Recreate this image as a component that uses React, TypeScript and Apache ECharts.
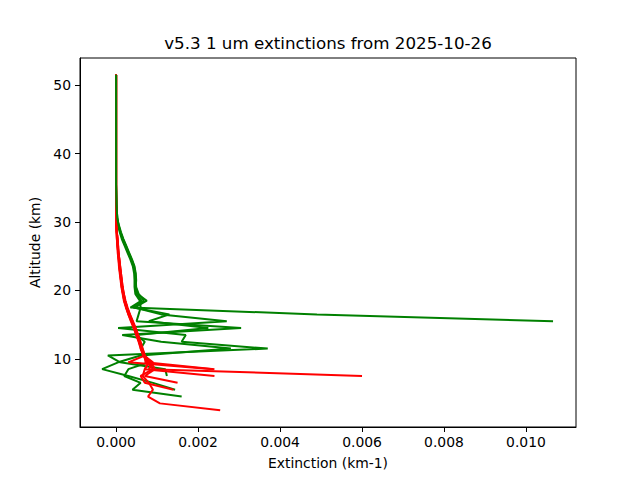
import { useEffect, useRef } from "react";
import * as echarts from "echarts";

// altitude levels (km), top to bottom; each profile runs down as far as it has values
const altitudes = [
  51.5, 45.5, 40.5, 35.5, 32.5, 30.5, 29.5, 28.5, 27.5, 26.5, 25.5, 24.5, 23.5, 22.5, 21.5, 20.5,
  19.5, 18.5, 17.5, 16.5, 15.5, 14.5, 13.5, 12.5, 11.5, 10.5, 9.5, 8.5, 7.5, 6.5, 5.5, 4.5, 3.5, 2.5
];

// green profiles (km-1)
const greenA = [
  0, 0, 0, 0, 0.00001, 0.00003, 0.00006, 0.0001, 0.00016, 0.00023, 0.0003, 0.00037, 0.00043, 0.00046,
  0.00047, 0.00047, 0.0005, 0.00062, 0.00035, 0.0049, 0.01066
];
const greenB = [
  0, 0, 0, 0, 0.00001, 0.00003, 0.00007, 0.00012, 0.00018, 0.00025, 0.00032, 0.00039, 0.00045, 0.00048,
  0.00049, 0.00048, 0.00052, 0.00075, 0.00045, 0.0011, 0.0027, 0.00005, 0.0017, 0.0016, 0.0037, -0.0002,
  0.0001, 0.0012, 0.00124
];
const greenC = [
  0, 0, 0, 0, 0.00001, 0.00002, 0.00005, 0.00009, 0.00014, 0.00021, 0.00028, 0.00035, 0.00041, 0.00044,
  0.00045, 0.00045, 0.00047, 0.00058, 0.0006, 0.00055, 0.0005, 0.00305, 0.00015, 0.0011, 0.0028, 0.0006,
  0.00005, -0.00034, 0.0003, 0.0009, 0.00144
];
const greenD = [
  0, 0, 0, 0, 0.00001, 0.00003, 0.00006, 0.00011, 0.00017, 0.00024, 0.00031, 0.00038, 0.00044, 0.00047,
  0.00048, 0.00049, 0.00055, 0.00068, 0.00042, 0.0013, 0.0008, 0.00225, 0.0005, 0.0007, 0.0006, 0.0007,
  0.0008, 0.0003, 0.0002, 0.0006, 0.0004, 0.0016
];

// red profiles (km-1)
const redA = [
  0, 0, 0, 0, 0, 0.000005, 0.00001, 0.00002, 0.00003, 0.00004, 0.00005, 0.00007, 0.00008, 0.0001,
  0.00012, 0.00014, 0.00017, 0.0002, 0.00025, 0.00031, 0.00038, 0.00045, 0.0005, 0.00056, 0.00062,
  0.00068, 0.0009, 0.0008, 0.006
];
const redB = [
  0, 0, 0, 0, 0, 0.000005, 0.00001, 0.00002, 0.00003, 0.00004, 0.00006, 0.00008, 0.0001, 0.00012,
  0.00014, 0.00016, 0.00019, 0.00023, 0.00028, 0.00034, 0.00041, 0.00048, 0.00054, 0.0006, 0.00065,
  0.0007, 0.0003, 0.00237
];
const redC = [
  0, 0, 0, 0, 0, 0, 0.00001, 0.00001, 0.00002, 0.00003, 0.00004, 0.00006, 0.00007, 0.00009, 0.00011,
  0.00013, 0.00016, 0.00019, 0.00024, 0.0003, 0.00036, 0.00043, 0.00049, 0.00055, 0.0006, 0.00066,
  0.0008, 0.0007, 0.0024
];
const redD = [
  0, 0, 0, 0, 0, 0.000005, 0.00001, 0.00002, 0.00003, 0.00005, 0.00006, 0.00008, 0.00009, 0.00011,
  0.00013, 0.00015, 0.00018, 0.00022, 0.00027, 0.00033, 0.0004, 0.00047, 0.00053, 0.00058, 0.00064,
  0.0007, 0.00085, 0.00095, 0.0007, 0.0015
];
const redE = [
  0, 0, 0, 0, 0, 0.000005, 0.00001, 0.00002, 0.00003, 0.00004, 0.00005, 0.00007, 0.00009, 0.00011,
  0.00013, 0.00015, 0.00018, 0.00021, 0.00026, 0.00032, 0.00039, 0.00046, 0.00052, 0.00057, 0.00063,
  0.00069, 0.0008, 0.0007, 0.00065, 0.0008, 0.0009, 0.00078, 0.00107, 0.00254
];
const redF = [
  0, 0, 0, 0, 0, 0, 0.00001, 0.00001, 0.00002, 0.00004, 0.00005, 0.00006, 0.00008, 0.0001, 0.00012,
  0.00014, 0.00017, 0.0002, 0.00025, 0.0003, 0.00037, 0.00044, 0.0005, 0.00056, 0.00061, 0.00067,
  0.00075, 0.0009, 0.0006, 0.0007, 0.0014
];
const redG = [
  0, 0, 0, 0, 0, 0.000005, 0.00001, 0.00002, 0.00004, 0.00005, 0.00006, 0.00008, 0.0001, 0.00012,
  0.00014, 0.00016, 0.00019, 0.00022, 0.00027, 0.00033, 0.0004, 0.00046, 0.00052, 0.00058, 0.00063,
  0.00069, 0.00072, 0.0024
];

const xTicks = [0, 0.002, 0.004, 0.006, 0.008, 0.01];
const yTicks = [10, 20, 30, 40, 50];

const font = "DejaVu Sans";

function profileLine(values: number[], color: string) {
  return {
    type: "line",
    data: values.map((v, i) => [v, altitudes[i]]),
    showSymbol: false,
    symbol: "none",
    lineStyle: { width: 2, color },
    z: 2
  };
}

export default function App() {
  const ref = useRef<HTMLDivElement | null>(null);

  useEffect(() => {
    if (!ref.current) return;
    const chart = echarts.init(ref.current, null, { renderer: "svg" });

    chart.setOption({
      animation: false,
      textStyle: { fontFamily: font },
      grid: {
        left: 80,
        right: 64,
        top: 58,
        bottom: 53,
        show: true,
        borderColor: "#000",
        borderWidth: 1
      },
      graphic: [
        {
          type: "text",
          x: 328,
          y: 43,
          style: {
            text: "v5.3 1 um extinctions from 2025-10-26",
            font: `16.7px "${font}"`,
            fill: "#000",
            textAlign: "center",
            textVerticalAlign: "middle"
          }
        }
      ],
      xAxis: {
        type: "value",
        min: -0.00088,
        max: 0.01122,
        name: "Extinction (km-1)",
        nameLocation: "middle",
        nameGap: 29,
        nameTextStyle: { fontSize: 13.9, color: "#000", fontFamily: font },
        axisLine: { show: true, onZero: false, lineStyle: { color: "#000", width: 1 } },
        axisTick: { show: true, length: 5, lineStyle: { color: "#000" }, customValues: xTicks },
        axisLabel: {
          color: "#000",
          fontSize: 13.9,
          margin: 8,
          customValues: xTicks,
          formatter: (v: number) => v.toFixed(3)
        },
        splitLine: { show: false }
      },
      yAxis: {
        type: "value",
        min: 0.05,
        max: 53.95,
        name: "Altitude (km)",
        nameLocation: "middle",
        nameGap: 26,
        nameRotate: 90,
        nameTextStyle: { fontSize: 13.9, color: "#000", fontFamily: font },
        axisLine: { show: true, onZero: false, lineStyle: { color: "#000", width: 1 } },
        axisTick: { show: true, length: 5, lineStyle: { color: "#000" }, customValues: yTicks },
        axisLabel: {
          color: "#000",
          fontSize: 13.9,
          margin: 9,
          customValues: yTicks,
          formatter: (v: number) => String(v)
        },
        splitLine: { show: false }
      },
      series: [
        profileLine(greenB, "#008000"),
        profileLine(greenC, "#008000"),
        profileLine(greenD, "#008000"),
        profileLine(redA, "#ff0000"),
        profileLine(redB, "#ff0000"),
        profileLine(redC, "#ff0000"),
        profileLine(redD, "#ff0000"),
        profileLine(redE, "#ff0000"),
        profileLine(redF, "#ff0000"),
        profileLine(redG, "#ff0000"),
        profileLine(greenA, "#008000")
      ]
    });

    return () => {
      chart.dispose();
    };
  }, []);

  return (
    <div
      ref={ref}
      style={{ position: "fixed", left: 0, top: 0, width: 640, height: 480, background: "#fff" }}
    />
  );
}
